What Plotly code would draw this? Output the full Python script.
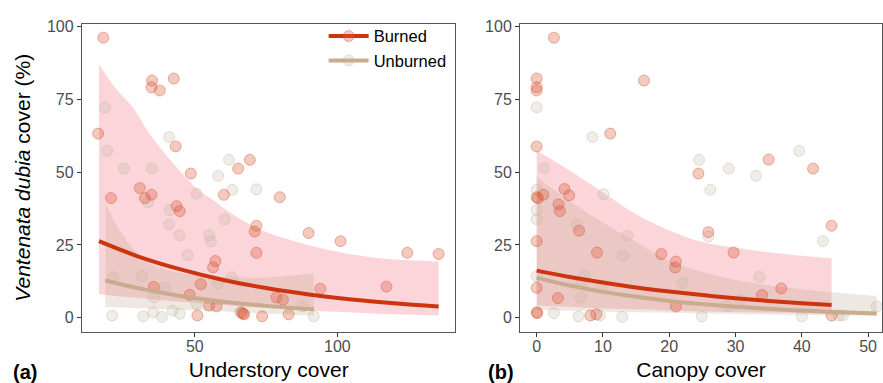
import plotly.graph_objects as go

# ---------------- data: panel (a) understory cover ----------------
a_burn_x = [17.9, 16.1, 35.0, 34.8, 37.7, 42.6, 43.3, 48.6, 65.2, 69.3, 30.7, 32.5, 34.8, 20.6, 60.2,
            43.6, 44.7, 57.2, 56.4, 52.1, 35.6, 48.2, 55.0, 57.6, 50.9, 66.9, 79.8, 71.6, 71.0, 71.6,
            89.9, 101.1, 124.5, 135.5, 94.0, 117.2, 78.6, 80.9, 66.4, 67.3, 73.6, 82.9]
a_burn_y = [96.1, 63.2, 81.4, 79.1, 78.0, 82.1, 58.8, 49.5, 51.2, 54.2, 44.5, 41.1, 42.2, 41.1, 42.2,
            38.3, 36.6, 19.5, 17.3, 11.5, 10.6, 7.9, 4.2, 3.9, 0.8, 1.4, 41.4, 31.6, 29.6, 22.3,
            29.1, 26.3, 22.3, 21.9, 10.0, 10.7, 7.0, 6.2, 1.9, 1.2, 0.5, 1.2]
a_unb_x = [18.5, 19.3, 25.1, 34.9, 41.0, 50.6, 58.2, 62.0, 63.1, 71.6, 47.4, 55.0, 55.6, 21.4, 31.3,
           41.0, 41.2, 33.6, 60.5, 35.7, 39.5, 21.0, 31.9, 35.4, 38.5, 42.2, 44.7, 50.6, 58.2, 65.8,
           87.9, 91.7, 63.0, 44.6]
a_unb_y = [72.2, 57.3, 51.2, 51.2, 62.0, 42.6, 48.7, 54.2, 43.9, 44.1, 21.5, 28.3, 26.2, 13.9, 14.3,
           32.1, 37.0, 39.7, 33.8, 7.0, 10.3, 0.8, 0.5, 1.9, 0.3, 2.5, 1.4, 4.8, 11.8, 1.9,
           3.9, 0.5, 13.9, 28.3]

# fitted curves and confidence bands, panel (a)
a_fitb_x = [16.4, 30, 45, 60, 75, 90, 105, 120, 135.5]
a_fitb_y = [26.3, 21.1, 16.6, 13.0, 10.2, 8.0, 6.3, 5.0, 3.9]
a_fitb_lo = [8.1, 6.8, 5.5, 4.4, 3.4, 2.5, 1.8, 1.2, 0.8]
a_bandb_up_x = [16.4, 22, 28.4, 34.2, 42.4, 50, 57, 64, 73.5, 85, 97, 115, 135.5]
a_bandb_up = [87, 79, 72, 63, 53, 45, 40, 35, 30, 26.3, 23.3, 20.4, 19.3]
a_fitu_x = [18.6, 30, 45, 60, 75, 91.7]
a_fitu_y = [12.8, 10.2, 7.5, 5.5, 4.1, 2.9]
a_fitu_lo = [3.7, 3.3, 2.8, 2.2, 1.5, 0.8]
a_bandu_up_x = [18.6, 22, 28, 34, 40, 45, 57, 73.5, 91.7]
a_bandu_up = [39.5, 32.7, 24.0, 18.7, 16.5, 15.4, 14.3, 13.8, 15.2]

# ---------------- data: panel (b) canopy cover ----------------
b_burn_x = [2.6, 0, 0, 0, 16.2, 11.1, 0, 0, 0.2, 4.2, 4.9, 1.0, 3.3, 3.5, 6.4, 0, 9.1, 18.8, 21.0, 20.9,
            0, 3.2, 0, 0.1, 8.1, 9.0, 21.0, 24.4, 35.0, 41.7, 25.9, 29.7, 44.5, 36.9, 34.0, 44.5]
b_burn_y = [96.1, 82.1, 79.1, 78.0, 81.4, 63.2, 58.8, 41.4, 41.0, 44.2, 42.0, 42.2, 38.9, 36.6, 29.9, 26.3,
            22.4, 21.9, 19.3, 17.3, 10.3, 6.8, 1.9, 1.6, 0.8, 1.2, 3.9, 49.5, 54.3, 51.2, 29.4, 22.4,
            31.6, 10.1, 7.8, 0.8]
b_unb_x = [0, 8.4, 1.1, 0, 10.1, 24.5, 29.0, 26.2, 33.1, 39.6, 0, 0, 6.1, 13.7, 13.0, 0, 7.2, 9.8, 6.7,
           6.7, 2.6, 6.3, 9.5, 12.9, 43.2, 25.9, 22.0, 33.6, 30.7, 28.8, 24.9, 40.0, 45.6, 46.2, 51.3]
b_unb_y = [72.2, 62.0, 51.4, 43.9, 42.4, 54.2, 51.2, 43.9, 48.7, 57.3, 37.0, 33.8, 32.1, 28.2, 21.3, 14.3,
           14.3, 10.5, 11.5, 7.0, 1.6, 0.5, 0.8, 0.3, 26.3, 27.9, 12.0, 14.0, 6.2, 4.0, 0.5, 0.5, 0.8,
           0.8, 3.9]

b_fitb_x = [0, 5, 10, 15, 20, 25, 30, 35, 40, 44.5]
b_fitb_y = [16.2, 14.0, 12.1, 10.4, 9.0, 7.8, 6.7, 5.8, 5.0, 4.4]
b_fitb_lo = [4.2, 3.7, 3.2, 2.9, 2.5, 2.2, 2.0, 1.8, 1.6, 1.4]
b_fitb_up = [57.3, 50.5, 43.0, 35.5, 30.0, 26.0, 24.0, 22.5, 21.3, 20.4]
b_fitu_x = [0, 5, 10, 15, 20, 25, 30, 35, 40, 45, 51.3]
b_fitu_y = [13.7, 11.1, 8.9, 7.2, 5.8, 4.7, 3.8, 3.1, 2.5, 2.0, 1.5]
b_fitu_lo = [2.8, 2.5, 2.2, 1.9, 1.7, 1.5, 1.3, 1.15, 1.0, 0.85, 0.7]
b_fitu_up = [48.4, 40.0, 32.7, 26.0, 19.5, 15.8, 13.0, 11.2, 9.8, 8.7, 7.5]

# ---------------- styles ----------------
BURN_LINE = "#CC3510"
UNB_LINE = "#C9AB8F"
BURN_BAND = "rgba(240,100,115,0.27)"
UNB_BAND = "rgba(190,165,140,0.25)"
BURN_PT = dict(size=11, color="rgba(220,90,55,0.32)", line=dict(color="rgba(205,75,45,0.40)", width=1))
UNB_PT = dict(size=11, color="rgba(200,185,170,0.28)", line=dict(color="rgba(190,175,160,0.38)", width=1))
FONT = "Liberation Sans, Arial, sans-serif"

fig = go.Figure()


def band(xs_lo, lo, xs_up, up, color, xa, ya):
    fig.add_trace(go.Scatter(x=xs_lo, y=lo, mode="lines", line=dict(width=0, shape="spline"),
                             hoverinfo="skip", showlegend=False, xaxis=xa, yaxis=ya))
    fig.add_trace(go.Scatter(x=xs_up, y=up, mode="lines", line=dict(width=0, shape="spline"),
                             fill="tonexty", fillcolor=color, hoverinfo="skip", showlegend=False,
                             xaxis=xa, yaxis=ya))


# panel (a)
band(a_fitb_x, a_fitb_lo, a_bandb_up_x, a_bandb_up, BURN_BAND, "x", "y")
band(a_fitu_x, a_fitu_lo, a_bandu_up_x, a_bandu_up, UNB_BAND, "x", "y")
fig.add_trace(go.Scatter(x=a_unb_x, y=a_unb_y, mode="markers", marker=UNB_PT, showlegend=False, xaxis="x", yaxis="y"))
fig.add_trace(go.Scatter(x=a_burn_x, y=a_burn_y, mode="markers", marker=BURN_PT, showlegend=False, xaxis="x", yaxis="y"))
fig.add_trace(go.Scatter(x=a_fitu_x, y=a_fitu_y, mode="lines", line=dict(color=UNB_LINE, width=4, shape="spline"),
                         showlegend=False, xaxis="x", yaxis="y"))
fig.add_trace(go.Scatter(x=a_fitb_x, y=a_fitb_y, mode="lines", line=dict(color=BURN_LINE, width=4, shape="spline"),
                         showlegend=False, xaxis="x", yaxis="y"))

# panel (b)
band(b_fitb_x, b_fitb_lo, b_fitb_x, b_fitb_up, BURN_BAND, "x2", "y2")
band(b_fitu_x, b_fitu_lo, b_fitu_x, b_fitu_up, UNB_BAND, "x2", "y2")
fig.add_trace(go.Scatter(x=b_unb_x, y=b_unb_y, mode="markers", marker=UNB_PT, showlegend=False, xaxis="x2", yaxis="y2"))
fig.add_trace(go.Scatter(x=b_burn_x, y=b_burn_y, mode="markers", marker=BURN_PT, showlegend=False, xaxis="x2", yaxis="y2"))
fig.add_trace(go.Scatter(x=b_fitu_x, y=b_fitu_y, mode="lines", line=dict(color=UNB_LINE, width=4, shape="spline"),
                         showlegend=False, xaxis="x2", yaxis="y2"))
fig.add_trace(go.Scatter(x=b_fitb_x, y=b_fitb_y, mode="lines", line=dict(color=BURN_LINE, width=4, shape="spline"),
                         showlegend=False, xaxis="x2", yaxis="y2"))

# legend entries
fig.add_trace(go.Scatter(x=[None], y=[None], mode="lines+markers", name="Burned", legendgroup="b",
                         line=dict(color=BURN_LINE, width=4), marker=BURN_PT, xaxis="x", yaxis="y"))
fig.add_trace(go.Scatter(x=[None], y=[None], mode="lines+markers", name="Unburned", legendgroup="u",
                         line=dict(color=UNB_LINE, width=4), marker=UNB_PT, xaxis="x", yaxis="y"))

W, H = 883, 383
axis_common = dict(showline=True, linecolor="#555555", linewidth=1.2, mirror=True, ticks="outside",
                   ticklen=4, tickwidth=1.1, tickcolor="#333333", showgrid=False, zeroline=False,
                   tickfont=dict(family=FONT, size=16, color="#4d4d4d"))

fig.update_layout(
    width=W, height=H, margin=dict(l=0, r=0, t=0, b=0),
    paper_bgcolor="white", plot_bgcolor="white",
    font=dict(family=FONT),
    xaxis=dict(domain=[82 / W, 456 / W], range=[10.4, 141.4], tickvals=[50, 100], ticklabelstandoff=-4,
               title=dict(text="Understory cover", font=dict(size=21, color="black"), standoff=8),
               anchor="y", **axis_common),
    yaxis=dict(domain=[(H - 331) / H, (H - 18) / H], range=[-4.8, 100.9], tickvals=[0, 25, 50, 75, 100],
               title=dict(text="<i>Ventenata dubia</i> cover (%)", font=dict(size=21, color="black"), standoff=10),
               anchor="x", **axis_common),
    xaxis2=dict(domain=[520.7 / W, 1.0], range=[-2.5, 52.1], tickvals=[0, 10, 20, 30, 40, 50], ticklabelstandoff=-4,
                title=dict(text="Canopy cover", font=dict(size=21, color="black"), standoff=8),
                anchor="y2", **axis_common),
    yaxis2=dict(domain=[(H - 331) / H, (H - 18) / H], range=[-4.8, 100.9], tickvals=[0, 25, 50, 75, 100],
                anchor="x2", **axis_common),
    legend=dict(x=324 / W, y=(H - 13) / H, xanchor="left", yanchor="top", bgcolor="rgba(0,0,0,0)",
                font=dict(family=FONT, size=16.5, color="black"), itemwidth=40, tracegroupgap=8,
                traceorder="normal"),
    annotations=[
        dict(text="<b>(a)</b>", x=25 / W, y=(H - 372) / H, xref="paper", yref="paper", showarrow=False,
             font=dict(family=FONT, size=20, color="black"), xanchor="center", yanchor="middle"),
        dict(text="<b>(b)</b>", x=501.5 / W, y=(H - 372) / H, xref="paper", yref="paper", showarrow=False,
             font=dict(family=FONT, size=20, color="black"), xanchor="center", yanchor="middle"),
    ],
)

fig.write_html("out.html", config={"displayModeBar": False},
               post_script="document.body.style.margin='0';document.body.style.padding='0';"
                           "document.body.style.overflow='hidden';")
